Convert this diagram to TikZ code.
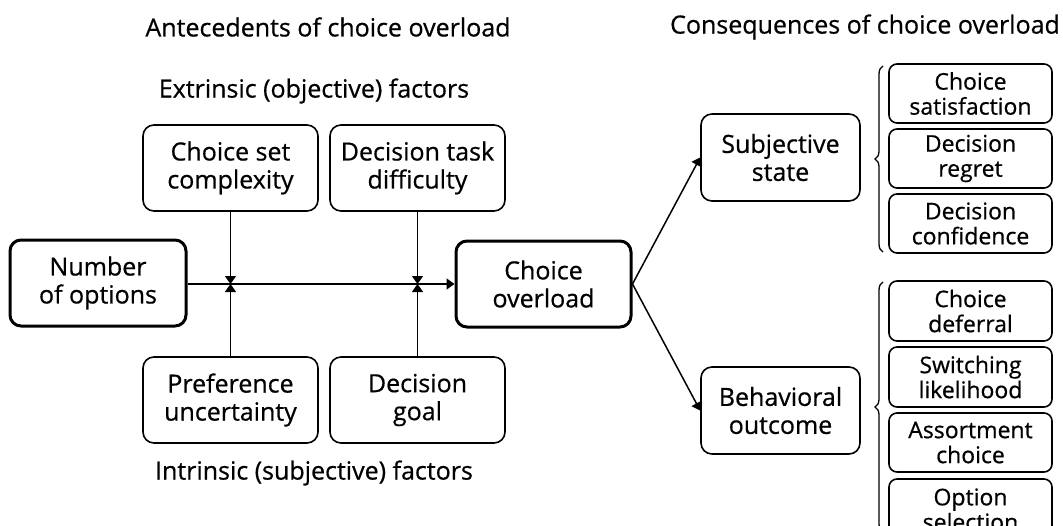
\documentclass[tikz,border=0pt]{standalone}
\usepackage{fontspec}
\setmainfont{Open Sans}[UprightFeatures={FakeBold=0.6}]
\usetikzlibrary{arrows.meta,decorations.pathreplacing}
\begin{document}
\begin{tikzpicture}[x=1pt,y=-1pt,
  box/.style={draw, rounded corners=11pt, line width=1.6pt, align=center, inner sep=0pt,
    font=\fontsize{25}{28}\selectfont},
  thick box/.style={box, line width=3pt},
  small box/.style={box, rounded corners=8pt, font=\fontsize{23}{25}\selectfont},
  title/.style={font=\fontsize{25}{28}\selectfont},
  conn/.style={line width=1.5pt},
  arr/.style={conn, -{Triangle[length=8pt,width=11pt]}},
  brc/.style={line width=1.3pt, decorate, decoration={brace, amplitude=8pt}}]
\useasboundingbox (0,0) rectangle (1063,525);
\clip (0,0) rectangle (1063,525);
% titles
\node[title] (t1) at (328,27) {Antecedents of choice overload};
\node[title] (t2) at (865,27) {Consequences of choice overload};
\node[title] (t3) at (314,91) {Extrinsic (objective) factors};
\node[title] (t4) at (314,473) {Intrinsic (subjective) factors};
% antecedent boxes
\node[thick box, minimum width=176pt, minimum height=86pt] (num) at (98,283) {Number\\of options};
\node[box, minimum width=175pt, minimum height=86pt] (csc) at (230.5,168) {Choice set\\complexity};
\node[box, minimum width=175pt, minimum height=86pt] (dtd) at (417.5,168) {Decision task\\difficulty};
\node[box, minimum width=175pt, minimum height=86pt] (pu) at (230.5,400) {Preference\\uncertainty};
\node[box, minimum width=175pt, minimum height=86pt] (dg) at (417.5,400) {Decision\\goal};
\node[thick box, minimum width=175pt, minimum height=86pt] (co) at (543.5,284) {Choice\\overload};
% consequence boxes
\node[box, minimum width=159pt, minimum height=87pt] (ss) at (780.5,157.5) {Subjective\\state};
\node[box, minimum width=159pt, minimum height=87pt] (bo) at (780.5,410.5) {Behavioral\\outcome};
\node[small box, minimum width=163pt, minimum height=59pt] (r1) at (970.5,93.5) {Choice\\satisfaction};
\node[small box, minimum width=163pt, minimum height=59pt] (r2) at (970.5,158.5) {Decision\\regret};
\node[small box, minimum width=163pt, minimum height=59pt] (r3) at (970.5,223.5) {Decision\\confidence};
\node[small box, minimum width=163pt, minimum height=60pt] (r4) at (970.5,311) {Choice\\deferral};
\node[small box, minimum width=163pt, minimum height=60pt] (r5) at (970.5,377) {Switching\\likelihood};
\node[small box, minimum width=163pt, minimum height=59pt] (r6) at (970.5,442.5) {Assortment\\choice};
\node[small box, minimum width=163pt, minimum height=61pt] (r7) at (970.5,509.5) {Option\\selection};
% connectors
\coordinate (j1) at (230.5,284);
\coordinate (j2) at (417.5,284);
\draw[arr] (num.east |- co.west) -- (co.west);
\draw[arr] (csc.south) -- (j1);
\draw[arr] (pu.north) -- (j1);
\draw[arr] (dtd.south) -- (j2);
\draw[arr] (dg.north) -- (j2);
\draw[arr] (co.east) -- (ss.west);
\draw[arr] (co.east) -- (bo.west);
% braces
\coordinate (b1t) at (883,66);
\coordinate (b1b) at (883,252);
\coordinate (b2t) at (883,282);
\coordinate (b2b) at (883,532);
\draw[brc] (b1b) -- (b1t);
\draw[brc] (b2b) -- (b2t);
\end{tikzpicture}
\end{document}
